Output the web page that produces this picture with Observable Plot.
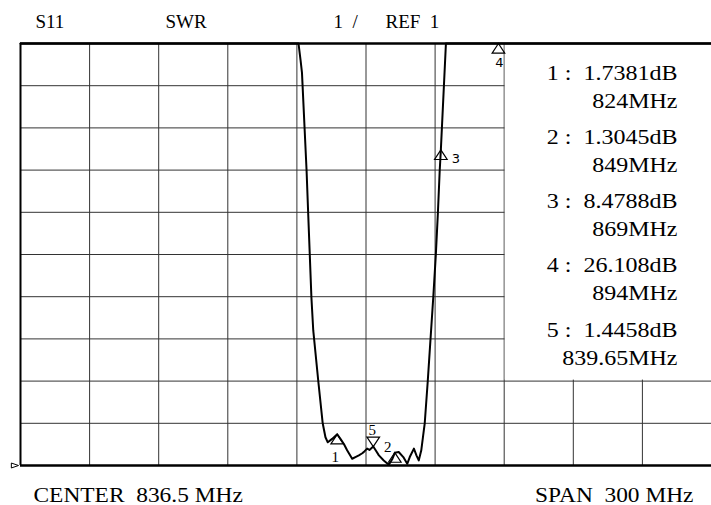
<!DOCTYPE html>
<html><head><meta charset="utf-8">
<script src="https://cdn.jsdelivr.net/npm/d3@7"></script>
<script src="https://cdn.jsdelivr.net/npm/@observablehq/plot@0.6"></script>
<style>
html,body{margin:0;padding:0;background:#fff;}
#chart svg{display:block;}
</style>
</head><body><div id="chart"></div>
<script>
const headerLabels = ["S11", "SWR", "1\u00a0 /", "REF\u00a0 1"];
const centerMHz = 836.5;
const spanMHz = 300;
const refLevel = 1;      // SWR at bottom line
const perDiv = 1;        // SWR per division
const divisions = 10;

const traceFreq = [686.5, 807.2, 808.1, 808.7, 810.7, 811.4, 812.1, 812.8, 813.6, 815.8, 817.7, 818.9, 819.9, 821.8, 824.0,
  825.4, 826.9, 828.3, 830.5, 831.9, 833.4, 834.9, 835.9, 837.0, 838.0, 839.65, 840.7, 842.1, 844.2, 846.4, 848.0, 849.0,
  850.7, 852.7, 854.4, 855.5, 857.3, 858.4, 859.4, 860.5, 861.6, 862.0, 863.3, 864.5, 865.7, 866.8, 867.7, 868.5, 869.0,
  871.2, 986.5];
const traceSwr = [11, 11, 10.6, 10.31, 7.99, 6.97, 5.98, 4.98, 4.20, 2.99, 2.00, 1.67, 1.55, 1.63, 1.74,
  1.63, 1.51, 1.36, 1.16, 1.20, 1.24, 1.29, 1.34, 1.40, 1.37, 1.45, 1.36, 1.24, 1.12, 1.02, 1.16, 1.30,
  1.32, 1.20, 1.04, 1.20, 1.40, 1.24, 1.12, 1.36, 1.83, 2.00, 2.99, 3.99, 4.98, 5.98, 6.97, 7.99, 8.48,
  11, 11];

const markerId = [1, 2, 3, 4, 5];
const markerFreq = [824, 849, 869, 894, 839.65];
const markerVal = [1.7381, 1.3045, 8.4788, 26.108, 1.4458];
const markerPointsDown = [false, false, false, false, true];

// ---- layout constants (not data) ----
const labelOffset = [[-2, 23], [-7, -5], [15, 9], [1, 19], [-1, -16.5]];
const labelSans = [false, false, true, true, false];
const headerDx = [15, 145, 313, 365];

const xDomain = [centerMHz - spanMHz / 2, centerMHz + spanMHz / 2];
const yDomain = [refLevel, refLevel + perDiv * divisions];
const xGrid = d3.range(divisions + 1).map(i => xDomain[0] + i * spanMHz / divisions);
const yGrid = d3.range(divisions + 1).map(i => refLevel + i * perDiv);
const trace = traceFreq.map((f, i) => ({f, s: traceSwr[i]}));
const markers = markerId.map((id, i) => ({
  id, f: markerFreq[i], v: markerVal[i], down: markerPointsDown[i],
  sv: Math.min(markerVal[i], yDomain[1])
}));
// readout panel blanks the upper-right grid cells (3 columns x 8 rows)
const panel = [{x1: xGrid[7], x2: xGrid[10], y1: yGrid[2], y2: yGrid[10]}];

const triUp = {draw(ctx, size) { const r = Math.sqrt(size / Math.PI), w = r * 1.05, h = r * 1.6;
  ctx.moveTo(0, 0); ctx.lineTo(w, h); ctx.lineTo(-w, h); ctx.closePath(); }};
const triDown = {draw(ctx, size) { const r = Math.sqrt(size / Math.PI), w = r * 1.05, h = r * 1.6;
  ctx.moveTo(0, 0); ctx.lineTo(w, -h); ctx.lineTo(-w, -h); ctx.closePath(); }};
const triRight = {draw(ctx, size) { const r = Math.sqrt(size / Math.PI), w = r * 1.3, h = r * 0.45;
  ctx.moveTo(0, 0); ctx.lineTo(-w, -h); ctx.lineTo(-w, h); ctx.closePath(); }};

const serif = "'Liberation Serif', 'Times New Roman', serif";
const sans = "'DejaVu Sans', sans-serif";

const marks = [
  Plot.ruleX(xGrid, {stroke: "#333", strokeWidth: 1}),
  Plot.ruleY(yGrid, {stroke: "#333", strokeWidth: 1}),
  Plot.rect(panel, {x1: "x1", x2: "x2", y1: "y1", y2: "y2", fill: "#fff", insetLeft: 1, insetBottom: 1}),
  Plot.ruleY([yDomain[0], yDomain[1]], {stroke: "#000", strokeWidth: 2.5}),
  Plot.ruleX([xDomain[0]], {stroke: "#000", strokeWidth: 2}),
  Plot.line(trace, {x: "f", y: "s", stroke: "#000", strokeWidth: 2}),
  Plot.dot(markers.filter(d => !d.down), {x: "f", y: "sv", symbol: triUp, r: 6, fill: "none", stroke: "#000", strokeWidth: 1.2}),
  Plot.dot(markers.filter(d => d.down), {x: "f", y: "sv", symbol: triDown, r: 6, fill: "none", stroke: "#000", strokeWidth: 1.2}),
  Plot.dot([refLevel], {y: d => d, frameAnchor: "left", dx: -2, symbol: triRight, r: 5.5, fill: "none", stroke: "#000", strokeWidth: 1})
];

markers.forEach((m, i) => {
  marks.push(Plot.text([m], {x: "f", y: "sv", text: d => String(d.id), dx: labelOffset[i][0], dy: labelOffset[i][1],
    textAnchor: "middle", lineAnchor: "middle", fontSize: labelSans[i] ? 13 : 15, fontFamily: labelSans[i] ? sans : serif, fill: "#000"}));
});

headerLabels.forEach((t, i) => {
  marks.push(Plot.text([t], {frameAnchor: "top-left", dx: headerDx[i], dy: -16, text: d => d, textAnchor: "start",
    lineAnchor: "bottom", fontSize: 19, fill: "#000", ariaDescription: "header"}));
});

markers.forEach((m, i) => {
  marks.push(Plot.text([m], {frameAnchor: "top-right", dx: -34, dy: 36.3 + i * 64.2,
    text: d => `${d.id} :\u00a0 ${d.v.toPrecision(5)}dB`, textAnchor: "end", lineAnchor: "bottom", fontSize: 20, fill: "#000", ariaDescription: "readout"}));
  marks.push(Plot.text([m], {frameAnchor: "top-right", dx: -34, dy: 36.3 + i * 64.2 + 28,
    text: d => `${d.f}MHz`, textAnchor: "end", lineAnchor: "bottom", fontSize: 20, fill: "#000", ariaDescription: "readout"}));
});

marks.push(Plot.text([centerMHz], {frameAnchor: "bottom-left", dx: 13, dy: 36, text: d => `CENTER\u00a0 ${d} MHz`,
  textAnchor: "start", lineAnchor: "bottom", fontSize: 20, fill: "#000", ariaDescription: "footer"}));
marks.push(Plot.text([spanMHz], {frameAnchor: "bottom-right", dx: -18, dy: 36, text: d => `SPAN\u00a0 ${d} MHz`,
  textAnchor: "end", lineAnchor: "bottom", fontSize: 20, fill: "#000", ariaDescription: "footer"}));

const chart = Plot.plot({
  width: 711, height: 505,
  marginLeft: 20, marginRight: 0, marginTop: 43, marginBottom: 40,
  x: {domain: xDomain, axis: null},
  y: {domain: yDomain, axis: null},
  style: {fontFamily: serif, background: "#fff", color: "#000", overflow: "visible"},
  marks
});
document.getElementById("chart").appendChild(chart);

// widen the instrument font horizontally, like the analyzer's screen font
const stretch = {readout: 1.2, footer: 1.17, header: 1.0};
Object.entries(stretch).forEach(([k, f]) => {
  chart.querySelectorAll(`g[aria-description="${k}"] text`).forEach(el => {
    const L = el.getComputedTextLength();
    if (L > 0 && f !== 1) {
      el.setAttribute("textLength", (L * f).toFixed(1));
      el.setAttribute("lengthAdjust", "spacingAndGlyphs");
    }
  });
});
</script>
</body></html>
